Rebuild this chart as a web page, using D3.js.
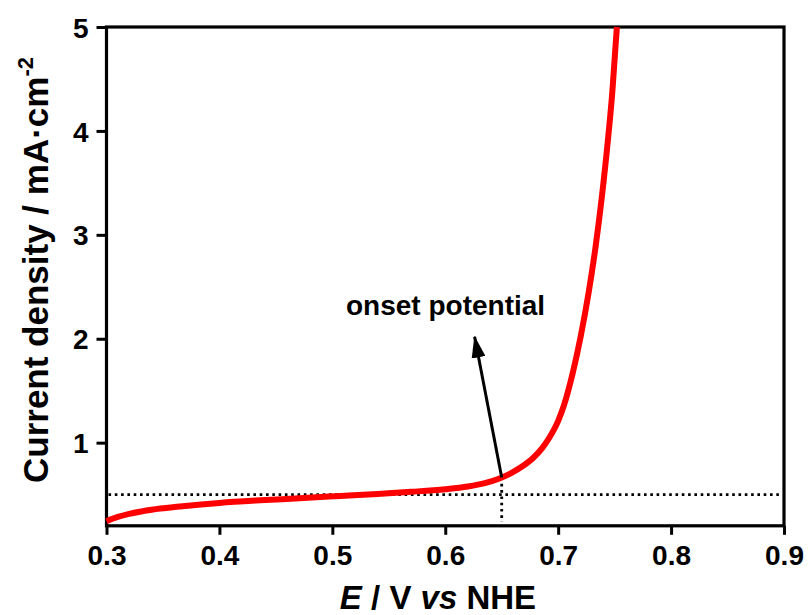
<!DOCTYPE html>
<html>
<head>
<meta charset="utf-8">
<script src="https://cdn.jsdelivr.net/npm/d3@7"></script>
<style>
  html, body { margin: 0; padding: 0; background: #fff; }
  svg { display: block; }
  text { font-family: "Liberation Sans", Arial, Helvetica, sans-serif; font-weight: bold; fill: #000; }
</style>
</head>
<body>
<svg id="chart" width="808" height="615"></svg>
<script>
// Linear sweep: potential (V vs NHE) and current density (mA·cm^-2)
const potential = [0.300, 0.310, 0.320, 0.340, 0.365, 0.400, 0.436, 0.471, 0.507, 0.540,
                   0.570, 0.600, 0.620, 0.635, 0.648, 0.658, 0.668, 0.678, 0.686, 0.692,
                   0.700, 0.705, 0.713, 0.720, 0.727, 0.733, 0.739, 0.744, 0.748, 0.752];
const current   = [0.245, 0.285, 0.315, 0.355, 0.385, 0.420, 0.445, 0.465, 0.487, 0.507,
                   0.527, 0.552, 0.578, 0.610, 0.655, 0.705, 0.770, 0.855, 0.950, 1.045,
                   1.210, 1.355, 1.675, 2.025, 2.445, 2.875, 3.395, 3.905, 4.380, 5.000];

const xTicks = [0.3, 0.4, 0.5, 0.6, 0.7, 0.8, 0.9];
const yTicks = [1, 2, 3, 4, 5];

// Onset marker: reference current level, onset potential, and arrow tip
const refCurrent = 0.5;
const onsetE = 0.65;
const onsetJ = 0.665;
const arrowTip = [0.626, 2.02];
const onsetLabel = "onset potential";

const svg = d3.select("#chart");
const plotL = 106.5, plotR = 784, plotT = 27, plotB = 525.8;

const x = d3.scaleLinear().domain([0.3, 0.9]).range([plotL, plotR]);
const y = d3.scaleLinear().domain([0.2, 5]).range([plotB, plotT]);

// Axes
const xAxis = svg.append("g")
  .attr("transform", `translate(0,${plotB})`)
  .call(d3.axisBottom(x).tickValues(xTicks).tickFormat(d3.format(".1f"))
        .tickSize(9).tickSizeOuter(0).tickPadding(10));
const yAxis = svg.append("g")
  .attr("transform", `translate(${plotL},0)`)
  .call(d3.axisLeft(y).tickValues(yTicks).tickFormat(d3.format("d"))
        .tickSize(10).tickSizeOuter(0).tickPadding(8));
[xAxis, yAxis].forEach(g => {
  g.select(".domain").remove();
  g.selectAll(".tick line").attr("stroke", "#000").attr("stroke-width", 3);
  g.selectAll(".tick text")
    .style("font-size", "28px")
    .style("font-family", "'Liberation Sans', Arial, sans-serif")
    .style("font-weight", "bold")
    .attr("fill", "#000");
});
yAxis.selectAll(".tick text").attr("dy", "0.36em");

// Plot frame
svg.append("rect")
  .attr("x", plotL).attr("y", plotT)
  .attr("width", plotR - plotL).attr("height", plotB - plotT)
  .attr("fill", "none").attr("stroke", "#000").attr("stroke-width", 3.2);

// Dotted guide lines
svg.append("line")
  .attr("x1", x(0.3) + 2).attr("x2", x(0.9) - 4)
  .attr("y1", y(refCurrent)).attr("y2", y(refCurrent))
  .attr("stroke", "#000").attr("stroke-width", 2.8).attr("stroke-dasharray", "2.6 3.7");
svg.append("line")
  .attr("x1", x(onsetE)).attr("x2", x(onsetE))
  .attr("y1", y(onsetJ)).attr("y2", y(0.2) - 4)
  .attr("stroke", "#000").attr("stroke-width", 2.8).attr("stroke-dasharray", "2.6 3.7");

// Polarization curve
const pts = potential.map((e, i) => [e, current[i]]);
svg.append("path")
  .datum(pts)
  .attr("fill", "none")
  .attr("stroke", "#ff0000")
  .attr("stroke-width", 6)
  .attr("stroke-linejoin", "round")
  .attr("d", d3.line().x(d => x(d[0])).y(d => y(d[1])).curve(d3.curveMonotoneX));

// Arrow pointing from the onset point to the label
const defs = svg.append("defs");
defs.append("marker")
  .attr("id", "head")
  .attr("viewBox", "0 0 22 14")
  .attr("refX", 21).attr("refY", 7)
  .attr("markerWidth", 22).attr("markerHeight", 14)
  .attr("markerUnits", "userSpaceOnUse")
  .attr("orient", "auto")
  .append("path").attr("d", "M0,0 L22,7 L0,14 Z").attr("fill", "#000");
svg.append("line")
  .attr("x1", x(onsetE)).attr("y1", y(onsetJ))
  .attr("x2", x(arrowTip[0])).attr("y2", y(arrowTip[1]))
  .attr("stroke", "#000").attr("stroke-width", 3)
  .attr("marker-end", "url(#head)");

svg.append("text")
  .attr("x", 346).attr("y", 315)
  .style("font-size", "28px")
  .text(onsetLabel);

// Axis titles
const xt = svg.append("text")
  .attr("x", 438).attr("y", 609)
  .attr("text-anchor", "middle")
  .style("font-size", "33px");
xt.append("tspan").style("font-style", "italic").text("E");
xt.append("tspan").text(" / V ");
xt.append("tspan").style("font-style", "italic").text("vs");
xt.append("tspan").text(" NHE");

const yt = svg.append("text")
  .attr("transform", "translate(48,270) rotate(-90)")
  .attr("text-anchor", "middle")
  .style("font-size", "35px");
yt.append("tspan").text("Current density / mA·cm");
yt.append("tspan").attr("dy", "-0.7em").style("font-size", "22px").text("-2");
</script>
</body>
</html>
